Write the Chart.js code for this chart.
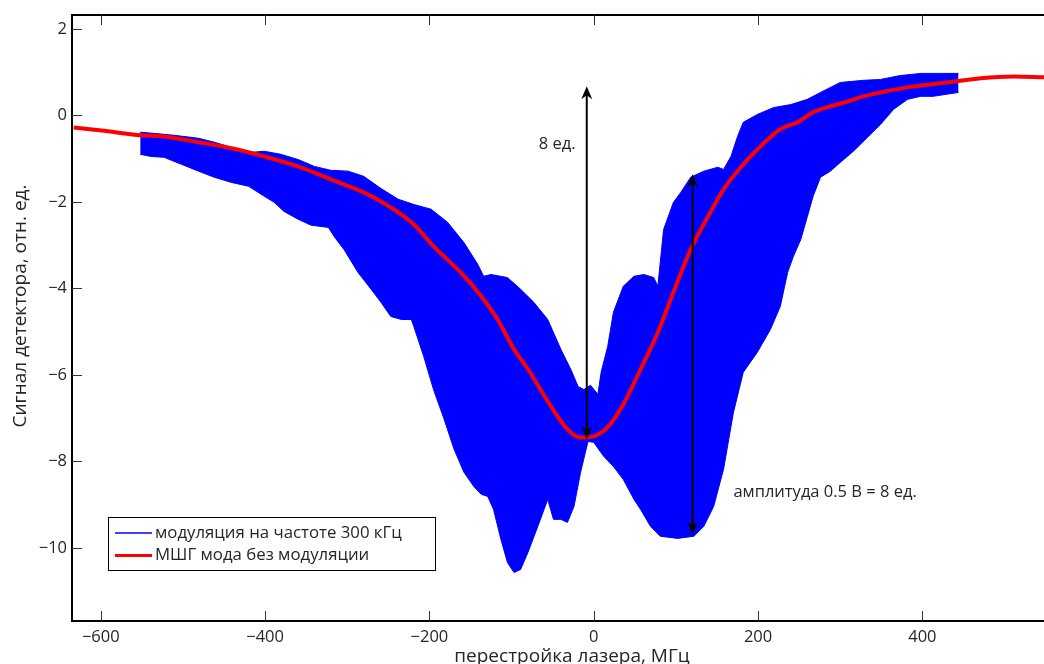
<!DOCTYPE html>
<html>
<head>
<meta charset="utf-8">
<script src="https://cdn.jsdelivr.net/npm/chart.js@4/dist/chart.umd.min.js"></script>
<style>
html, body { margin: 0; padding: 0; background: #fff; overflow: hidden; }
</style>
</head>
<body>
<canvas id="chart" width="1044" height="664"></canvas>
<script>
// tick labels
const xTicks = [-600, -400, -200, 0, 200, 400];
const yTicks = [-10, -8, -6, -4, -2, 0, 2];

// МШГ мода без модуляции (red)
const modeX = [-633, -599, -551, -523, -481, -441, -401, -360, -320, -280, -259, -238, -219, -195, -162, -137, -117, -97, -80, -56, -32, -16, 0, 17, 36, 57, 78, 97, 118, 139, 158, 179, 199, 227, 248, 267, 288, 309, 328, 349, 389, 430, 471, 511, 548];
const modeY = [-0.28, -0.35, -0.46, -0.49, -0.62, -0.76, -0.95, -1.18, -1.48, -1.78, -1.99, -2.24, -2.52, -3.03, -3.63, -4.18, -4.72, -5.41, -5.87, -6.61, -7.26, -7.45, -7.42, -7.21, -6.68, -5.87, -5.02, -4.09, -3.10, -2.34, -1.71, -1.20, -0.79, -0.32, -0.16, 0.07, 0.21, 0.32, 0.44, 0.53, 0.67, 0.76, 0.86, 0.90, 0.88];

// модуляция 300 кГц: upper and lower envelope of the blue band
const upperX = [-552, -533, -511, -481, -462, -441, -420, -401, -381, -360, -340, -320, -299, -280, -259, -238, -219, -198, -178, -158, -141, -134, -125, -105, -89, -73, -56, -40, -28, -19, -12, -4, 5, 9, 17, 24, 36, 49, 61, 73, 78, 85, 97, 106, 118, 134, 151, 158, 167, 175, 182, 199, 219, 240, 260, 276, 300, 328, 349, 373, 398, 422, 444];
const upperY = [-0.39, -0.42, -0.46, -0.53, -0.62, -0.74, -0.86, -0.83, -0.90, -1.02, -1.18, -1.27, -1.29, -1.41, -1.69, -1.94, -2.06, -2.17, -2.47, -2.94, -3.45, -3.72, -3.68, -3.75, -4.02, -4.32, -4.72, -5.41, -5.87, -6.27, -6.34, -6.24, -6.45, -5.94, -5.34, -4.55, -3.95, -3.72, -3.68, -3.75, -3.95, -2.64, -2.01, -1.78, -1.43, -1.29, -1.20, -1.25, -0.95, -0.49, -0.16, 0.02, 0.18, 0.25, 0.37, 0.53, 0.76, 0.81, 0.83, 0.92, 0.97, 0.97, 0.97];
const lowerX = [-552, -539, -523, -502, -481, -462, -441, -420, -401, -389, -377, -360, -344, -323, -316, -304, -287, -271, -259, -247, -234, -222, -219, -207, -195, -182, -170, -158, -146, -137, -129, -122, -113, -105, -97, -89, -80, -68, -56, -49, -40, -32, -24, -16, -7, 0, 12, 24, 36, 49, 57, 69, 81, 102, 122, 134, 146, 158, 170, 182, 199, 215, 227, 236, 243, 252, 260, 267, 276, 288, 300, 316, 333, 349, 365, 382, 398, 413, 430, 444];
const lowerY = [-0.90, -0.95, -0.97, -1.13, -1.29, -1.43, -1.55, -1.64, -1.87, -2.01, -2.22, -2.40, -2.54, -2.59, -2.80, -3.10, -3.63, -4.02, -4.32, -4.65, -4.72, -4.72, -4.88, -5.57, -6.34, -7.03, -7.72, -8.25, -8.58, -8.76, -8.81, -9.11, -9.80, -10.34, -10.57, -10.50, -10.10, -9.50, -8.88, -9.34, -9.34, -9.41, -9.04, -8.25, -7.54, -7.56, -7.88, -8.12, -8.42, -8.88, -9.11, -9.50, -9.73, -9.78, -9.73, -9.50, -9.04, -8.18, -6.87, -5.94, -5.48, -4.95, -4.42, -3.63, -3.26, -2.87, -2.34, -1.87, -1.43, -1.29, -1.09, -0.83, -0.51, -0.21, 0.14, 0.37, 0.44, 0.44, 0.49, 0.53];

// double arrows (x, from, to) and their labels
const arrowX = [-8.5, 120.4];
const arrowFrom = [-7.49, -9.69];
const arrowTo = [0.67, -1.36];
const noteText = ['8 ед.', 'амплитуда 0.5 В = 8 ед.'];
const noteX = [-67, 170];
const noteY = [-0.67, -8.72];

const FONT = '"Open Sans", "Noto Sans", sans-serif';
const TXT = '#262626';

const pts = (xs, ys) => xs.map((x, i) => ({x: x, y: ys[i]}));
const minus = v => String(v).replace('-', '\u2212');

function arrowHead(ctx, x, y, dir) {
    // dir = -1 points up, +1 points down
    ctx.beginPath();
    ctx.moveTo(x, y);
    ctx.lineTo(x - 5.5, y - dir * 13);
    ctx.lineTo(x, y - dir * 9);
    ctx.lineTo(x + 5.5, y - dir * 13);
    ctx.closePath();
    ctx.fill();
}

const decor = {
    id: 'decor',
    afterDraw(chart) {
        const ctx = chart.ctx;
        const a = chart.chartArea;
        const xs = chart.scales.x, ys = chart.scales.y;
        ctx.save();

        // axes box (right side is off the picture)
        ctx.strokeStyle = '#000';
        ctx.lineWidth = 2;
        ctx.beginPath();
        ctx.moveTo(chart.width + 2, a.top);
        ctx.lineTo(a.left, a.top);
        ctx.lineTo(a.left, a.bottom);
        ctx.lineTo(chart.width + 2, a.bottom);
        ctx.stroke();

        // inward ticks
        ctx.strokeStyle = '#333';
        ctx.lineWidth = 1;
        ctx.beginPath();
        xTicks.forEach(v => {
            const px = Math.round(xs.getPixelForValue(v)) + 0.5;
            ctx.moveTo(px, a.bottom); ctx.lineTo(px, a.bottom - 10);
            ctx.moveTo(px, a.top); ctx.lineTo(px, a.top + 10);
        });
        yTicks.forEach(v => {
            const py = Math.round(ys.getPixelForValue(v)) + 0.5;
            ctx.moveTo(a.left, py); ctx.lineTo(a.left + 10, py);
        });
        ctx.stroke();

        // arrows
        ctx.strokeStyle = '#000';
        ctx.fillStyle = '#000';
        ctx.lineWidth = 2;
        arrowX.forEach((v, i) => {
            const px = xs.getPixelForValue(v);
            const y1 = ys.getPixelForValue(arrowFrom[i]);
            const y2 = ys.getPixelForValue(arrowTo[i]);
            ctx.beginPath();
            ctx.moveTo(px, y1 - 8);
            ctx.lineTo(px, y2 + 8);
            ctx.stroke();
            arrowHead(ctx, px, y1, 1);
            arrowHead(ctx, px, y2, -1);
        });

        // notes
        ctx.fillStyle = TXT;
        ctx.font = '16.5px ' + FONT;
        ctx.textAlign = 'left';
        ctx.textBaseline = 'middle';
        noteText.forEach((t, i) => {
            ctx.fillText(t, xs.getPixelForValue(noteX[i]), ys.getPixelForValue(noteY[i]));
        });

        // legend
        const lx = a.left + 36, ly = a.bottom - 104;
        ctx.fillStyle = '#fff';
        ctx.fillRect(lx, ly, 327, 53);
        ctx.strokeStyle = '#000';
        ctx.lineWidth = 1;
        ctx.strokeRect(lx + 0.5, ly + 0.5, 327, 53);
        ctx.strokeStyle = '#0000ff';
        ctx.lineWidth = 1.3;
        ctx.beginPath(); ctx.moveTo(lx + 7, ly + 16); ctx.lineTo(lx + 44, ly + 16); ctx.stroke();
        ctx.strokeStyle = '#ff0000';
        ctx.lineWidth = 3;
        ctx.beginPath(); ctx.moveTo(lx + 7, ly + 38.5); ctx.lineTo(lx + 44, ly + 38.5); ctx.stroke();
        ctx.fillStyle = TXT;
        ctx.font = '16.8px ' + FONT;
        ctx.fillText('модуляция на частоте 300 кГц', lx + 47, ly + 16);
        ctx.fillText('МШГ мода без модуляции', lx + 47, ly + 38.5);

        // axis titles
        ctx.font = '19px ' + FONT;
        ctx.textAlign = 'center';
        ctx.textBaseline = 'alphabetic';
        ctx.fillText('перестройка лазера, МГц', 572, 662);
        ctx.translate(21, 306);
        ctx.rotate(-Math.PI / 2);
        ctx.textBaseline = 'middle';
        ctx.fillText('Сигнал детектора, отн. ед.', 0, 0);
        ctx.restore();
    }
};

new Chart(document.getElementById('chart').getContext('2d'), {
    type: 'line',
    data: {
        datasets: [
            {
                label: 'upper',
                data: pts(upperX, upperY),
                borderColor: '#0000ff',
                borderWidth: 1,
                pointRadius: 0,
                fill: false,
                order: 2
            },
            {
                label: 'модуляция на частоте 300 кГц',
                data: pts(lowerX, lowerY),
                borderColor: '#0000ff',
                backgroundColor: '#0000ff',
                borderWidth: 1,
                pointRadius: 0,
                fill: 0,
                order: 2
            },
            {
                label: 'МШГ мода без модуляции',
                data: pts(modeX, modeY),
                borderColor: '#ff0000',
                borderWidth: 4,
                pointRadius: 0,
                cubicInterpolationMode: 'monotone',
                fill: false,
                order: 1
            }
        ]
    },
    options: {
        responsive: false,
        animation: false,
        layout: {padding: {top: 15, left: 0, right: 0, bottom: 0}},
        plugins: {legend: {display: false}, tooltip: {enabled: false}},
        scales: {
            x: {
                type: 'linear',
                min: -635,
                max: 548,
                grid: {display: false, drawTicks: false},
                border: {display: false},
                afterBuildTicks: s => { s.ticks = xTicks.map(v => ({value: v})); },
                afterFit: s => { s.height = 43; },
                ticks: {padding: 6, color: TXT, font: {size: 16.5, family: FONT}, callback: v => minus(v), maxRotation: 0}
            },
            y: {
                type: 'linear',
                min: -11.69,
                max: 2.32,
                grid: {display: false, drawTicks: false},
                border: {display: false},
                afterBuildTicks: s => { s.ticks = yTicks.map(v => ({value: v})); },
                afterFit: s => { s.width = 72; },
                ticks: {padding: 5, color: TXT, font: {size: 16.5, family: FONT}, callback: v => minus(v)}
            }
        }
    },
    plugins: [decor]
});
</script>
</body>
</html>
